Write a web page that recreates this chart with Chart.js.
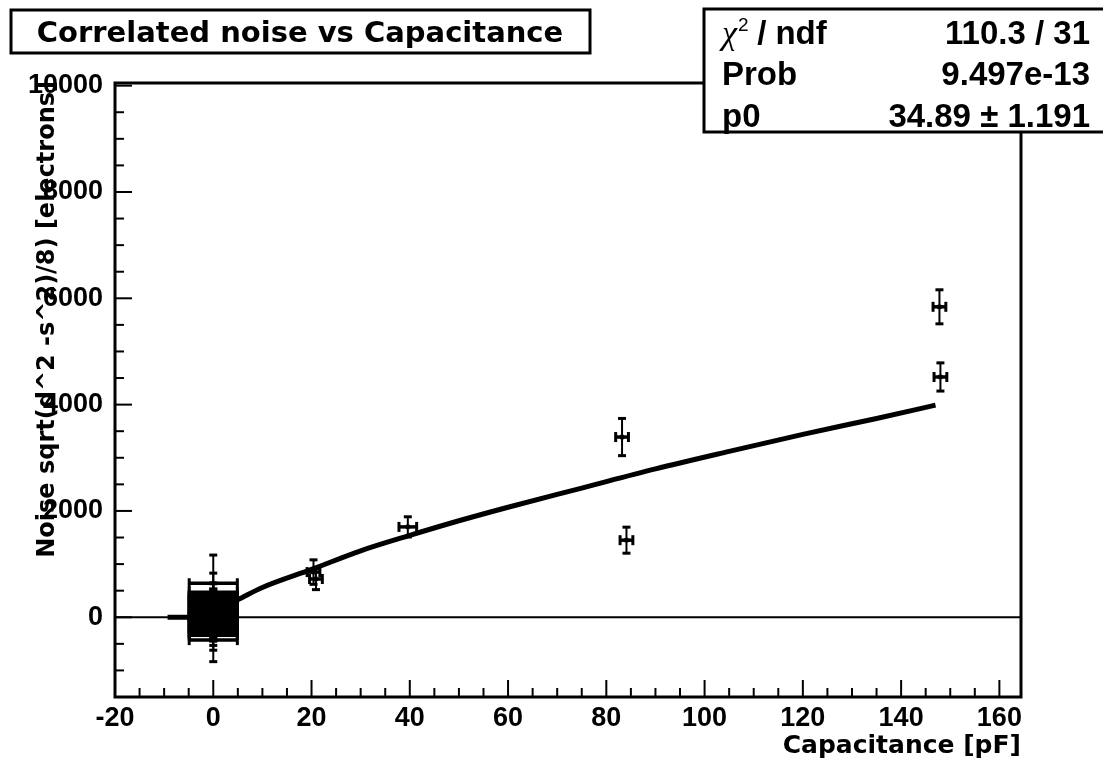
<!DOCTYPE html>
<html>
<head>
<meta charset="utf-8">
<script src="https://cdn.jsdelivr.net/npm/chart.js@4"></script>
<style>
  body { margin: 0; background: #fff; }
  #c { display: block; }
</style>
</head>
<body>
<canvas id="c" width="1103" height="764"></canvas>
<script>
// axis ranges and tick labels
const xMin = -20, xMax = 164.4, yMin = -1500, yMax = 10050;
const xTicks = [-20, 0, 20, 40, 60, 80, 100, 120, 140, 160];
const yTicks = [0, 2000, 4000, 6000, 8000, 10000];

// pedestal runs, all at C = 0
const pedX    = [0, 0, 0, 0, 0, 0, 0, 0, 0, 0, 0, 0, 0, 0, 0, 0, 0, 0, 0, 0, 0, 0, 0, 0];
const pedXErr = [4.9, 4.9, 4.9, 4.9, 4.9, 4.9, 4.9, 4.9, 4.9, 4.9, 4.9, 4.9, 4.9, 4.9, 4.9, 4.9, 4.9, 4.9, 4.9, 4.9, 4.9, 4.9, 4.9, 4.9];
const pedY    = [640, 470, 430, 395, 350, 310, 275, 230, 190, 150, 110, 70, 30, 10, -20, -60, -100, -140, -185, -225, -260, -300, -340, -430];
const pedYErr = [530, 360, 200, 250, 180, 220, 150, 260, 200, 170, 240, 190, 210, 280, 160, 230, 200, 250, 180, 210, 190, 230, 280, 405];

// runs with a capacitance added
const capX     = [20.4, 20.9, 39.6, 83.2, 84.1, 147.8, 148.0];
const capXErr  = [1.3, 1.3, 1.8, 1.3, 1.3, 1.3, 1.3];
const noiseY   = [850, 720, 1700, 3390, 1450, 5840, 4520];
const noiseErr = [230, 200, 190, 350, 245, 320, 265];

// fitted curve
const fitX = [2, 5, 10, 20, 30, 40, 50, 60, 75, 90, 105, 120, 135, 147];
const fitY = [200, 330, 560, 900, 1250, 1540, 1815, 2070, 2430, 2790, 3120, 3440, 3740, 3990];

// short thick piece on the zero line left of the pedestals
const stubX = [-9.3, -4.8];

const statLabels = ['χ', 'Prob', 'p0'];
const statValues = ['110.3 / 31', '9.497e-13', '34.89 ± 1.191'];

const titleText = 'Correlated noise vs Capacitance';
const xTitle = 'Capacitance [pF]';
const yTitle = 'Noise sqrt(d^2 -s^2)/8) [electrons]';

const WORD = '"DejaVu Sans", sans-serif';
const NUM = '"Liberation Sans", Arial, sans-serif';

function toPts(xs, ys) {
  return xs.map((x, i) => ({x: x, y: ys[i]}));
}

function line(ctx, x1, y1, x2, y2) {
  ctx.beginPath();
  ctx.moveTo(x1, y1);
  ctx.lineTo(x2, y2);
  ctx.stroke();
}

const errorBars = {
  id: 'errorBars',
  afterDatasetsDraw(chart) {
    const ctx = chart.ctx, x = chart.scales.x, y = chart.scales.y;
    const a = chart.chartArea;
    ctx.save();
    ctx.beginPath();
    ctx.rect(a.left, a.top, a.right - a.left, a.bottom - a.top);
    ctx.clip();
    ctx.strokeStyle = '#000';
    function draw(xs, xe, ys, ye) {
      for (let i = 0; i < xs.length; i++) {
        const px = x.getPixelForValue(xs[i]), py = y.getPixelForValue(ys[i]);
        const x1 = x.getPixelForValue(xs[i] - xe[i]), x2 = x.getPixelForValue(xs[i] + xe[i]);
        const y1 = y.getPixelForValue(ys[i] + ye[i]), y2 = y.getPixelForValue(ys[i] - ye[i]);
        // vertical error
        ctx.lineWidth = 2;
        line(ctx, px, y1, px, y2);
        ctx.lineWidth = 3;
        line(ctx, px - 4, y1, px + 4, y1);
        line(ctx, px - 4, y2, px + 4, y2);
        // horizontal error
        ctx.lineWidth = 3.5;
        line(ctx, x1, py, x2, py);
        ctx.lineWidth = 3;
        line(ctx, x1, py - 5, x1, py + 5);
        line(ctx, x2, py - 5, x2, py + 5);
      }
    }
    draw(pedX, pedXErr, pedY, pedYErr);
    draw(capX, capXErr, noiseY, noiseErr);
    ctx.restore();
  }
};

const frame = {
  id: 'frame',
  afterDraw(chart) {
    const ctx = chart.ctx, x = chart.scales.x, y = chart.scales.y;
    const a = chart.chartArea;
    ctx.save();
    ctx.strokeStyle = '#000';
    ctx.fillStyle = '#000';

    // ticks inside the frame
    ctx.lineWidth = 2;
    for (let v = xMin; v <= xMax; v += 5) {
      const p = x.getPixelForValue(v);
      line(ctx, p, a.bottom, p, a.bottom - (v % 20 === 0 ? 17 : 9));
    }
    for (let v = yMin; v <= yMax; v += 500) {
      const p = y.getPixelForValue(v);
      line(ctx, a.left, p, a.left + (v % 2000 === 0 ? 17 : 9), p);
    }
    ctx.lineWidth = 3;
    ctx.strokeRect(a.left, a.top, a.right - a.left, a.bottom - a.top);

    // axis titles
    ctx.font = 'bold 25px ' + WORD;
    ctx.textAlign = 'right';
    ctx.textBaseline = 'alphabetic';
    ctx.fillText(xTitle, a.right, 753);

    ctx.save();
    ctx.translate(54, a.top - 2);
    ctx.rotate(-Math.PI / 2);
    ctx.font = 'bold 24px ' + WORD;
    ctx.fillText(yTitle, 0, 0);
    ctx.restore();

    // title box
    ctx.fillStyle = '#fff';
    ctx.fillRect(11, 10, 579, 43);
    ctx.fillStyle = '#000';
    ctx.lineWidth = 3;
    ctx.strokeRect(11, 10, 579, 43);
    ctx.font = 'bold 29px ' + WORD;
    ctx.textAlign = 'center';
    ctx.fillText(titleText, 300, 42);

    // fit statistics box
    ctx.fillStyle = '#fff';
    ctx.fillRect(704, 9, 410, 123);
    ctx.fillStyle = '#000';
    ctx.strokeRect(704, 9, 410, 123);
    const rows = [44, 85, 127];
    ctx.textAlign = 'left';
    ctx.font = 'italic 34px "Liberation Serif", serif';
    ctx.fillText(statLabels[0], 722, rows[0]);
    let w = ctx.measureText(statLabels[0]).width;
    ctx.font = '19px ' + NUM;
    ctx.fillText('2', 722 + w + 1, rows[0] - 13);
    ctx.font = 'bold 33px ' + NUM;
    ctx.fillText(' / ndf', 722 + w + 11, rows[0]);
    ctx.fillText(statLabels[1], 722, rows[1]);
    ctx.fillText(statLabels[2], 722, rows[2]);
    ctx.textAlign = 'right';
    statValues.forEach((s, i) => ctx.fillText(s, 1090, rows[i]));
    ctx.restore();
  }
};

new Chart(document.getElementById('c'), {
  type: 'scatter',
  data: {
    datasets: [
      {
        data: [{x: xMin, y: 0}, {x: xMax, y: 0}],
        showLine: true, borderColor: '#000', borderWidth: 2, pointRadius: 0
      },
      {
        data: stubX.map(v => ({x: v, y: 0})),
        showLine: true, borderColor: '#000', borderWidth: 5, pointRadius: 0
      },
      {
        data: toPts(fitX, fitY),
        showLine: true, borderColor: '#000', borderWidth: 5, pointRadius: 0,
        cubicInterpolationMode: 'monotone'
      },
      {
        data: toPts(pedX, pedY),
        pointStyle: 'rect', pointRadius: 2, backgroundColor: '#000', borderColor: '#000'
      },
      {
        data: toPts(capX, noiseY),
        pointStyle: 'rect', pointRadius: 2.5, backgroundColor: '#000', borderColor: '#000'
      }
    ]
  },
  options: {
    responsive: false,
    animation: false,
    layout: { padding: { top: 83, right: 82, left: 0, bottom: 0 } },
    plugins: { legend: { display: false }, tooltip: { enabled: false } },
    scales: {
      x: {
        type: 'linear', min: xMin, max: xMax,
        grid: { display: false }, border: { display: false },
        afterBuildTicks: s => { s.ticks = xTicks.map(v => ({value: v})); },
        afterFit: s => { s.height = 67; },
        ticks: {
          autoSkip: false, maxRotation: 0, padding: -3, color: '#000',
          font: { family: NUM, size: 27, weight: 'bold' },
          callback: v => String(v)
        }
      },
      y: {
        type: 'linear', min: yMin, max: yMax,
        grid: { display: false }, border: { display: false },
        afterBuildTicks: s => { s.ticks = yTicks.map(v => ({value: v})); },
        afterFit: s => { s.width = 115; },
        ticks: {
          autoSkip: false, padding: 4, color: '#000',
          font: { family: NUM, size: 27, weight: 'bold' },
          callback: v => String(v)
        }
      }
    }
  },
  plugins: [errorBars, frame]
});
</script>
</body>
</html>
